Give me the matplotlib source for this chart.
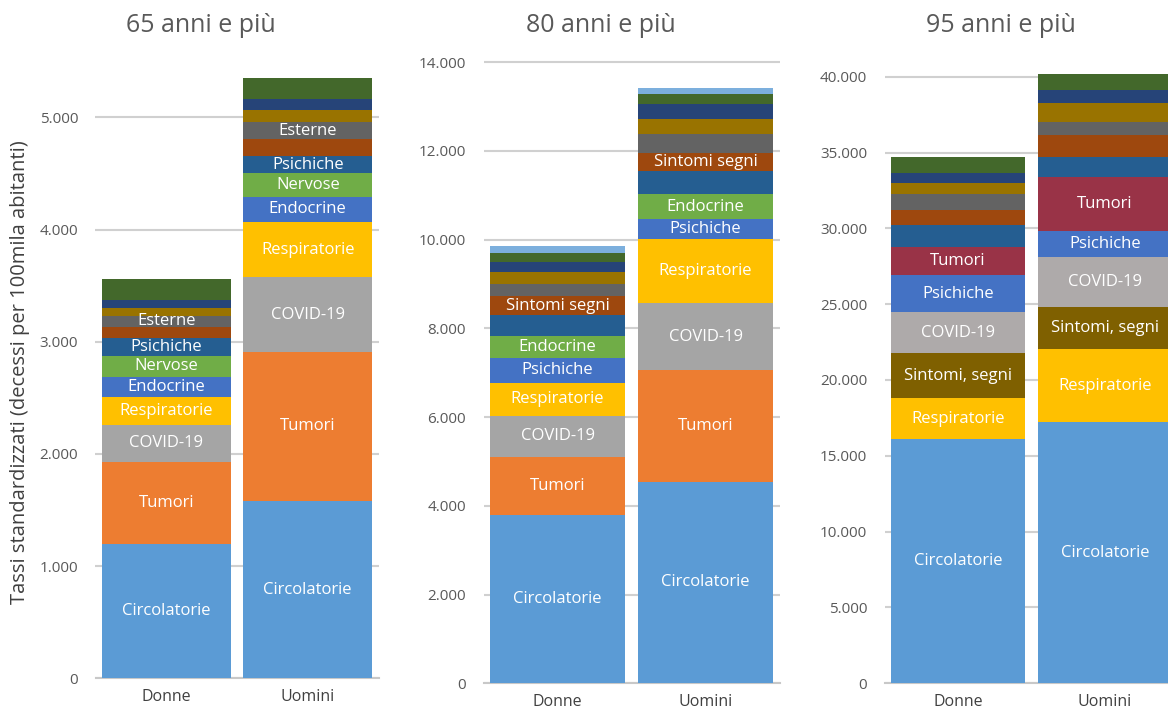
import matplotlib
matplotlib.use("Agg")
import matplotlib.pyplot as plt
from matplotlib.ticker import FuncFormatter

plt.rcParams['font.family'] = ['Open Sans', 'DejaVu Sans']

categories = ["Donne", "Uomini"]

# ---- Panel 1: 65 anni e più ----
p1_title = "65 anni e più"
p1_series = ["Circolatorie", "Tumori", "COVID-19", "Respiratorie", "Endocrine", "Nervose",
             "Psichiche", "Altro A", "Esterne", "Altro B", "Altro C", "Altro D"]
p1_donne = [1197, 733, 328, 246, 186, 182, 164, 98, 95, 69, 74, 187]
p1_uomini = [1580, 1330, 664, 493, 225, 209, 151, 155, 151, 107, 98, 185]
p1_shown = ["Circolatorie", "Tumori", "COVID-19", "Respiratorie", "Endocrine", "Nervose",
            "Psichiche", "", "Esterne", "", "", ""]
p1_colors = ["#5B9BD5", "#ED7D31", "#A5A5A5", "#FFC000", "#4472C4", "#70AD47",
             "#255E91", "#9E480E", "#636363", "#997300", "#264478", "#43682B"]
p1_ticks = [0, 1000, 2000, 3000, 4000, 5000]

# ---- Panel 2: 80 anni e più ----
p2_title = "80 anni e più"
p2_series = ["Circolatorie", "Tumori", "COVID-19", "Respiratorie", "Psichiche", "Endocrine",
             "Nervose", "Sintomi segni", "Esterne", "Altro B", "Altro C", "Altro D", "Altro E"]
p2_donne = [3794, 1314, 918, 750, 564, 489, 467, 435, 270, 278, 225, 203, 158]
p2_uomini = [4545, 2515, 1510, 1440, 460, 550, 530, 400, 430, 330, 360, 210, 150]
p2_shown = ["Circolatorie", "Tumori", "COVID-19", "Respiratorie", "Psichiche", "Endocrine",
            "", "Sintomi segni", "", "", "", "", ""]
p2_colors = ["#5B9BD5", "#ED7D31", "#A5A5A5", "#FFC000", "#4472C4", "#70AD47",
             "#255E91", "#9E480E", "#636363", "#997300", "#264478", "#43682B", "#7CAFDD"]
p2_ticks = [0, 2000, 4000, 6000, 8000, 10000, 12000, 14000]

# ---- Panel 3: 95 anni e più ----
p3_title = "95 anni e più"
p3_series = ["Circolatorie", "Respiratorie", "Sintomi, segni", "COVID-19", "Psichiche", "Tumori",
             "Nervose", "Altro A", "Esterne", "Altro B", "Altro C", "Altro D"]
p3_donne = [16110, 2680, 2970, 2700, 2460, 1850, 1450, 990, 1060, 720, 660, 1040]
p3_uomini = [17210, 4810, 2810, 3260, 1740, 3540, 1320, 1450, 870, 1280, 830, 1060]
p3_shown = ["Circolatorie", "Respiratorie", "Sintomi, segni", "COVID-19", "Psichiche", "Tumori",
            "", "", "", "", "", ""]
p3_colors = ["#5B9BD5", "#FFC000", "#7F6000", "#AEAAAA", "#4472C4", "#993347",
             "#255E91", "#9E480E", "#636363", "#997300", "#264478", "#43682B"]
p3_ticks = [0, 5000, 10000, 15000, 20000, 25000, 30000, 35000, 40000]

ylabel = "Tassi standardizzati (decessi per 100mila abitanti)"

W, H = 1168, 711
fig = plt.figure(figsize=(W / 100, H / 100), dpi=100)


def px_axes(left, right, top, bottom):
    return fig.add_axes([left / W, (H - bottom) / H, (right - left) / W, (bottom - top) / H])


def fmt(v, _pos):
    return f"{int(round(v)):,}".replace(",", ".")


panels = [
    (p1_title, p1_donne, p1_uomini, p1_shown, p1_colors, p1_ticks,
     (95.5, 378.5, 70, 678.3), 5422, 201),
    (p2_title, p2_donne, p2_uomini, p2_shown, p2_colors, p2_ticks,
     (483.5, 779.5, 55, 683.3), 14164, 601),
    (p3_title, p3_donne, p3_uomini, p3_shown, p3_colors, p3_ticks,
     (884.5, 1178.5, 60, 683.3), 41101, 1001),
]

for title, donne, uomini, shown, colors, ticks, box, ymax, tx in panels:
    ax = px_axes(*box)
    x = [0, 1]
    bottoms = [0.0, 0.0]
    for i in range(len(donne)):
        vals = [donne[i], uomini[i]]
        ax.bar(x, vals, width=0.91, bottom=bottoms, color=colors[i], zorder=3,
               edgecolor='none')
        if shown[i]:
            for j in range(2):
                ax.text(x[j], bottoms[j] + vals[j] / 2, shown[i], ha='center', va='center',
                        color='white', fontsize=12, zorder=4)
        bottoms = [bottoms[0] + vals[0], bottoms[1] + vals[1]]
    ax.set_xlim(-0.5, 1.5)
    ax.set_ylim(0, ymax)
    ax.set_yticks(ticks)
    ax.yaxis.set_major_formatter(FuncFormatter(fmt))
    ax.set_xticks(x)
    ax.set_xticklabels(categories)
    ax.tick_params(axis='y', length=0, pad=12.5, labelsize=11, labelcolor='#595959')
    ax.tick_params(axis='x', length=0, pad=8, labelsize=11.5, labelcolor='#404040')
    ax.grid(axis='y', color='#D0D0D0', linewidth=1.5, zorder=0)
    for s in ['left', 'right', 'top']:
        ax.spines[s].set_visible(False)
    ax.spines['bottom'].set_color('#C8C8C8')
    ax.spines['bottom'].set_linewidth(1.5)
    ax.patch.set_alpha(0)
    fig.text(tx / W, 1 - 25 / H, title, ha='center', va='center', fontsize=18,
             color='#595959')

fig.text(20 / W, 1 - 372 / H, ylabel, rotation=90, ha='center', va='center',
         fontsize=14.5, color='#404040')

fig.savefig("out.png", dpi=100)
